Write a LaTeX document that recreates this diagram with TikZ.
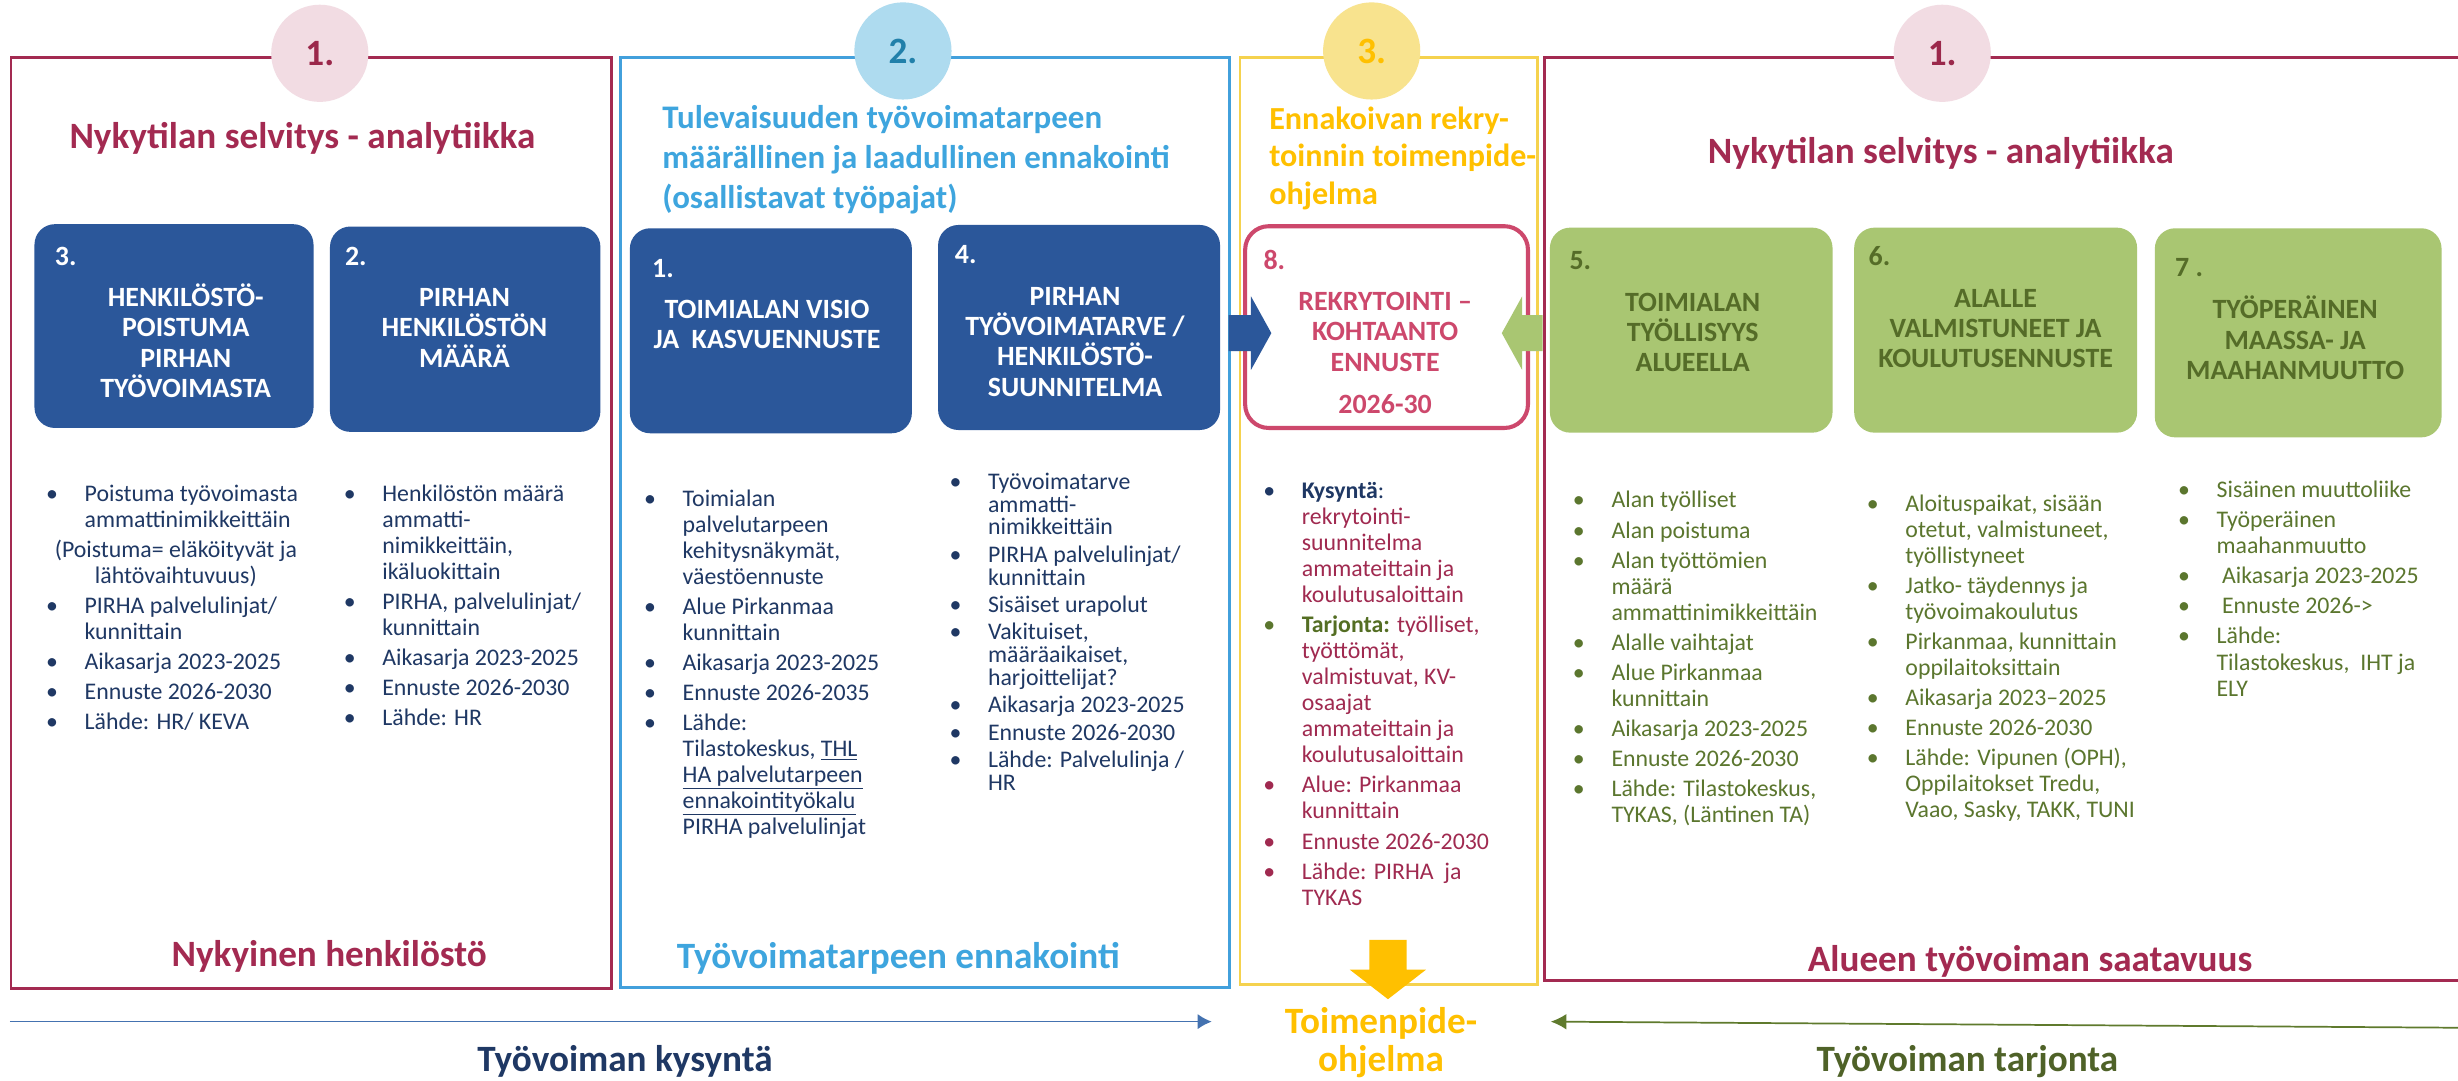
\documentclass[tikz,border=0pt]{standalone}
\usepackage{fontspec}
\setmainfont{Carlito}
\usetikzlibrary{arrows.meta}
\definecolor{cMar}{RGB}{163,42,81}
\definecolor{cBlueF}{RGB}{66,160,220}
\definecolor{cBlueT}{RGB}{62,165,222}
\definecolor{cYelF}{RGB}{245,210,78}
\definecolor{cGold}{RGB}{255,192,0}
\definecolor{cPinkC}{RGB}{242,220,227}
\definecolor{cBlueC}{RGB}{174,219,239}
\definecolor{cYelC}{RGB}{248,227,142}
\definecolor{cNum2}{RGB}{33,128,170}
\definecolor{cNum1}{RGB}{155,40,75}
\definecolor{cBox}{RGB}{43,87,154}
\definecolor{cGreen}{RGB}{169,198,114}
\definecolor{cGreenT}{RGB}{85,108,40}
\definecolor{cNavy}{RGB}{31,56,100}
\definecolor{cRose}{RGB}{205,72,108}
\definecolor{cListM}{RGB}{160,42,80}
\definecolor{cOlive}{RGB}{91,118,46}
\definecolor{cOliveB}{RGB}{84,110,35}
\definecolor{cArrL}{RGB}{68,114,176}
\definecolor{cArrR}{RGB}{95,122,45}
\definecolor{cTarj}{RGB}{79,98,40}
\newlength\bind
\setlength\bind{23.8pt}
\newcommand\bitem[2][]{\par\hangindent=\bind\hangafter=1\noindent\makebox[\bind][l]{\makebox[6pt][c]{#1\textbullet}}#2\par}
\newcommand\listsetup{\fontsize{15.2}{16.6}\selectfont\setlength\parskip{2.6pt}\raggedright}
\newcommand\blist[3][]{\begin{minipage}[t]{#2}\listsetup #1#3\end{minipage}}
\newcommand\ctext[2]{\begin{minipage}[t]{#1}\centering #2\end{minipage}}
\newcommand\ltext[2]{\begin{minipage}[t]{#1}\raggedright #2\end{minipage}}
\begin{document}
\begin{tikzpicture}[x=1pt,y=-1pt,
  frm/.style={line width=1.8pt},
  numcirc/.style={circle, minimum size=62pt, inner sep=0pt, font=\fontsize{23.7}{28}\selectfont\bfseries},
  bbox/.style={rectangle, rounded corners=13pt, fill=cBox, inner sep=0pt},
  gbox/.style={rectangle, rounded corners=13pt, fill=cGreen, inner sep=0pt},
  rbox/.style={rectangle, rounded corners=15pt, draw=cRose, line width=2.6pt, fill=white, inner sep=0pt},
  boxtxt/.style={inner sep=0pt, anchor=base, font=\fontsize{17.8}{19.3}\selectfont\bfseries},
  boxnum/.style={inner sep=0pt, anchor=base west, font=\fontsize{17.8}{19.3}\selectfont\bfseries},
  listtxt/.style={inner sep=0pt, anchor=base west},
  bigtxt/.style={inner sep=0pt, anchor=base, font=\fontsize{23.7}{28.8}\selectfont\bfseries}
]
\useasboundingbox (0,0) rectangle (1568,689);
\fill[white] (0,0) rectangle (1568,689);

% frames
\draw[frm, draw=cMar] (7,36.8) rectangle (390,630.8);
\draw[frm, draw=cBlueF] (396,36.8) rectangle (784.5,630);
\draw[frm, draw=cYelF] (791,36.8) rectangle (980.6,628);
\draw[frm, draw=cMar] (985.5,36.8) rectangle (1580,625.6);

% circles
\node[numcirc, fill=cPinkC, text=cNum1] (c1) at (204,34) {1.};
\node[numcirc, fill=cBlueC, text=cNum2] (c2) at (576,32.5) {2.};
\node[numcirc, fill=cYelC, text=cGold] (c3) at (875,32.5) {3.};
\node[numcirc, fill=cPinkC, text=cNum1] (c4) at (1239,34) {1.};

% titles
\node[bigtxt, text=cMar] (tA) at (192.9,94.6) {Nykytilan selvitys - analytiikka};
\node[inner sep=0pt, anchor=base west, text=cBlueT, font=\fontsize{21}{25.7}\selectfont\bfseries] (tB) at (422.4,81.9)
  {\ltext{360pt}{Tulevaisuuden työvoimatarpeen\\määrällinen ja laadullinen ennakointi\\(osallistavat työpajat)}};
\node[inner sep=0pt, anchor=base west, text=cGold, font=\fontsize{20.5}{23.9}\selectfont\bfseries] (tC) at (809.5,82.5)
  {\ltext{175pt}{Ennakoivan rekry-\\toinnin toimenpide-\\ohjelma}};
\node[inner sep=0pt, anchor=base west, text=cMar, font=\fontsize{23.7}{28}\selectfont\bfseries] (tD) at (1089.3,104.6) {Nykytilan selvitys - analytiikka};

% boxes
\node[bbox, minimum width=178pt, minimum height=130pt] (b3) at (111,208) {};
\node[bbox, minimum width=172.5pt, minimum height=131pt] (b2) at (296.75,210) {};
\node[bbox, minimum width=179.9pt, minimum height=130.8pt] (b1) at (491.75,211) {};
\node[bbox, minimum width=179.9pt, minimum height=130.8pt] (b4) at (688.35,208.9) {};
\node[rbox, minimum width=180.4pt, minimum height=128.7pt] (b8) at (884.5,208.65) {};
\node[gbox, minimum width=180.3pt, minimum height=130.8pt] (b5) at (1078.85,210.6) {};
\node[gbox, minimum width=180.5pt, minimum height=130.8pt] (b6) at (1273.05,210.6) {};
\node[gbox, minimum width=182.9pt, minimum height=133.4pt] (b7) at (1466.05,212.3) {};

% block arrows
\fill[cBox] (783.7,201) -- (798,201) -- (798,189) -- (811,212.5) -- (798,236) -- (798,224) -- (783.7,224) -- cycle;
\fill[cGreen] (984,201) -- (971,201) -- (971,189) -- (958,212.5) -- (971,236) -- (971,224) -- (984,224) -- cycle;

% box numbers
\node[boxnum, text=white] (n3) at (34.8,169.4) {3.};
\node[boxnum, text=white] (n2) at (219.9,169.4) {2.};
\node[boxnum, text=white] (n1) at (415.8,176.7) {1.};
\node[boxnum, text=white] (n4) at (609,168.3) {4.};
\node[boxnum, text=cRose] (n8) at (805.8,171.7) {8.};
\node[boxnum, text=cGreenT] (n5) at (1001,172) {5.};
\node[boxnum, text=cGreenT] (n6) at (1191.8,169.4) {6.};
\node[boxnum, text=cGreenT] (n7) at (1387.4,176.2) {7 .};

% box texts
\node[boxtxt, text=white] (x3) at (118.5,195.6) {\ctext{170pt}{HENKILÖSTÖ-\\POISTUMA\\PIRHAN\\TYÖVOIMASTA}};
\node[boxtxt, text=white] (x2) at (296.3,195.6) {\ctext{170pt}{PIRHAN\\HENKILÖSTÖN\\MÄÄRÄ}};
\node[boxtxt, text=white] (x1) at (489.3,203) {\ctext{175pt}{TOIMIALAN VISIO\\JA\ \ KASVUENNUSTE}};
\node[boxtxt, text=white] (x4) at (685.8,194.8) {\ctext{175pt}{PIRHAN\\TYÖVOIMATARVE /\\HENKILÖSTÖ-\\SUUNNITELMA}};
\node[boxtxt, text=cRose] (x8) at (883.6,198.2) {\ctext{175pt}{REKRYTOINTI –\\KOHTAANTO\\ENNUSTE}};
\node[boxtxt, text=cRose] (x8y) at (883.6,263.7) {2026-30};
\node[boxtxt, text=cGreenT] (x5) at (1079.8,198.5) {\ctext{175pt}{TOIMIALAN\\TYÖLLISYYS\\ALUEELLA}};
\node[boxtxt, text=cGreenT] (x6) at (1273,196) {\ctext{175pt}{ALALLE\\VALMISTUNEET JA\\KOULUTUSENNUSTE}};
\node[boxtxt, text=cGreenT] (x7) at (1464.1,203.4) {\ctext{175pt}{TYÖPERÄINEN\\MAASSA- JA\\MAAHANMUUTTO}};

% lists
\node[listtxt, text=cNavy] (lA1) at (30,319.6) {\blist{185pt}{%
\bitem{Poistuma työvoimasta\newline ammattinimikkeittäin}
\par\noindent\hspace*{82pt}\makebox[0pt]{(Poistuma= eläköityvät ja}\newline\hspace*{82pt}\makebox[0pt]{lähtövaihtuvuus)}\par
\bitem{PIRHA palvelulinjat/\newline kunnittain}
\bitem{Aikasarja 2023-2025}
\bitem{Ennuste 2026-2030}
\bitem{Lähde: HR/ KEVA}}};

\node[listtxt, text=cNavy] (lA2) at (219.9,319.6) {\blist{170pt}{%
\bitem{Henkilöstön määrä\newline ammatti-\newline nimikkeittäin,\newline ikäluokittain}
\bitem{PIRHA, palvelulinjat/\newline kunnittain}
\bitem{Aikasarja 2023-2025}
\bitem{Ennuste 2026-2030}
\bitem{Lähde: HR}}};

\node[listtxt, text=cNavy] (lB1) at (411.5,322.9) {\blist{185pt}{%
\bitem{Toimialan\newline palvelutarpeen\newline kehitysnäkymät,\newline väestöennuste}
\bitem{Alue Pirkanmaa\newline kunnittain}
\bitem{Aikasarja 2023-2025}
\bitem{Ennuste 2026-2035}
\bitem{Lähde:\newline Tilastokeskus, \underline{THL}\newline \underline{HA palvelutarpeen}\newline \underline{ennakointityökalu}\newline PIRHA palvelulinjat}}};

\node[listtxt, text=cNavy] (lB2) at (606.3,312.2) {\blist[\fontsize{15.2}{14.5}\selectfont\setlength\parskip{3pt}]{175pt}{%
\bitem{Työvoimatarve\newline ammatti-\newline nimikkeittäin}
\bitem{PIRHA palvelulinjat/\newline kunnittain}
\bitem{Sisäiset urapolut}
\bitem{Vakituiset,\newline määräaikaiset,\newline harjoittelijat?}
\bitem{Aikasarja 2023-2025}
\bitem{Ennuste 2026-2030}
\bitem{Lähde: Palvelulinja /\newline HR}}};

\node[listtxt, text=cListM] (lC) at (806.5,318) {\blist{170pt}{%
\bitem[\color{cNavy}]{\textcolor{cNavy}{\textbf{Kysyntä}:}\newline rekrytointi-\newline suunnitelma\newline ammateittain ja\newline koulutusaloittain}
\bitem[\color{cOlive}]{\textcolor{cOliveB}{\textbf{Tarjonta:}} työlliset,\newline työttömät,\newline valmistuvat, KV-\newline osaajat\newline ammateittain ja\newline koulutusaloittain}
\bitem{Alue: Pirkanmaa\newline kunnittain}
\bitem{Ennuste 2026-2030}
\bitem{Lähde: PIRHA\ \ ja\newline TYKAS}}};

\node[listtxt, text=cOlive] (l5) at (1004,324) {\blist{180pt}{%
\bitem{Alan työlliset}
\bitem{Alan poistuma}
\bitem{Alan työttömien\newline määrä\newline ammattinimikkeittäin}
\bitem{Alalle vaihtajat}
\bitem{Alue Pirkanmaa\newline kunnittain}
\bitem{Aikasarja 2023-2025}
\bitem{Ennuste 2026-2030}
\bitem{Lähde: Tilastokeskus,\newline TYKAS, (Läntinen TA)}}};

\node[listtxt, text=cOlive] (l6) at (1191.5,326) {\blist{185pt}{%
\bitem{Aloituspaikat, sisään\newline otetut, valmistuneet,\newline työllistyneet}
\bitem{Jatko- täydennys ja\newline työvoimakoulutus}
\bitem{Pirkanmaa, kunnittain\newline oppilaitoksittain}
\bitem{Aikasarja 2023–2025}
\bitem{Ennuste 2026-2030}
\bitem{Lähde: Vipunen (OPH),\newline Oppilaitokset Tredu,\newline Vaao, Sasky, TAKK, TUNI}}};

\node[listtxt, text=cOlive] (l7) at (1390,317.4) {\blist{165pt}{%
\bitem{Sisäinen muuttoliike}
\bitem{Työperäinen\newline maahanmuutto}
\bitem{\hspace*{3.5pt}Aikasarja 2023-2025}
\bitem{\hspace*{3.5pt}Ennuste 2026->}
\bitem{Lähde:\newline Tilastokeskus,\ \ IHT ja\newline ELY}}};

% frame bottom labels
\node[bigtxt, text=cMar] (fA) at (210,616.5) {Nykyinen henkilöstö};
\node[bigtxt, text=cBlueT] (fB) at (573,617.5) {Työvoimatarpeen ennakointi};
\node[bigtxt, text=cMar] (fD) at (1295,620) {Alueen työvoiman saatavuus};

% yellow down arrow
\fill[cGold] (873.5,599.6) -- (897.3,599.6) -- (897.3,618.6) -- (909.6,618.6) -- (885.4,637.4) -- (861.1,618.6) -- (873.5,618.6) -- cycle;
\node[inner sep=0pt, anchor=base, text=cGold, font=\fontsize{23.7}{24.5}\selectfont\bfseries] (tp) at (881,659) {\ctext{160pt}{Toimenpide-\\ohjelma}};

% bottom arrows
\coordinate (kL) at (6.3,651.7);
\coordinate (kR) at (773,651.7);
\draw[cArrL, line width=1.1pt, -{Latex[length=9pt,width=9.7pt]}] (kL) -- (kR);
\coordinate (tR) at (1568,655.6);
\coordinate (tL) at (989.2,651.7);
\draw[cArrR, line width=1.1pt, -{Latex[length=10pt,width=10pt]}] (tR) -- (tL);
\node[bigtxt, text=cNavy] (ky) at (398.7,683.3) {Työvoiman kysyntä};
\node[bigtxt, text=cTarj] (ta) at (1255,683.8) {Työvoiman tarjonta};
\end{tikzpicture}
\end{document}
